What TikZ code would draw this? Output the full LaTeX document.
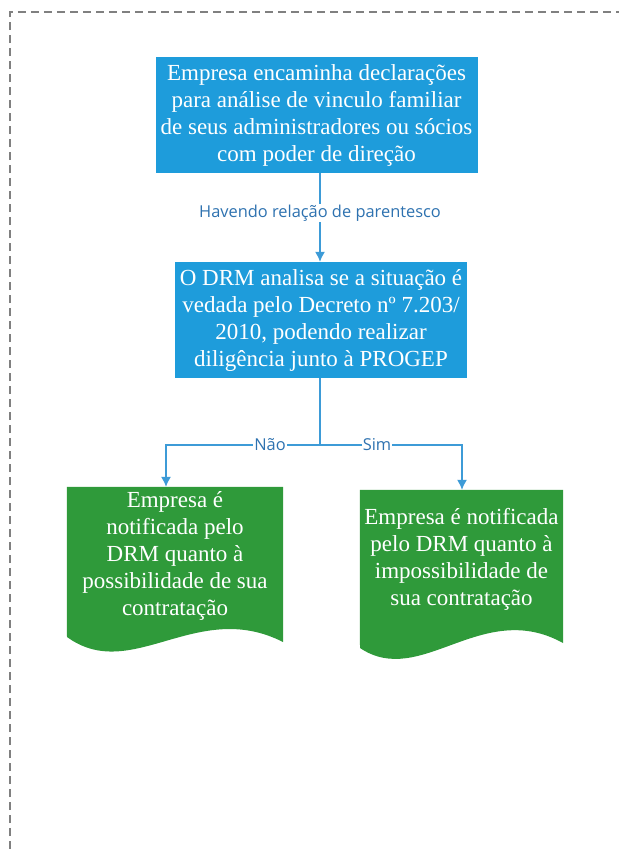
\documentclass[tikz,border=0pt]{standalone}
\usepackage{fontspec}
\newfontfamily\boxfont{Liberation Serif}
\newfontfamily\labelfont{Open Sans}
\usepackage{xcolor}
\usetikzlibrary{arrows.meta}
\usetikzlibrary{positioning}

\definecolor{boxblue}{HTML}{1E9CDB}
\definecolor{docgreen}{HTML}{2F9A3A}
\definecolor{linkblue}{HTML}{3D9BD7}
\definecolor{labelblue}{HTML}{2E72B0}

\tikzset{
  procbox/.style={fill=boxblue, text=white, align=center, font=\boxfont\fontsize{23}{27}\selectfont, inner sep=0pt},
  docbox/.style={text=white, align=center, font=\boxfont\fontsize{23}{27}\selectfont, inner sep=0pt},
  link/.style={draw=linkblue, line width=1.3pt},
  tip/.style={-{Latex[length=10pt,width=10pt]}},
  linklabel/.style={fill=white, text=labelblue, font=\labelfont\fontsize{16.4}{18}\selectfont, inner sep=1pt}
}

\begin{document}
\begin{tikzpicture}[x=1pt,y=-1pt]

\useasboundingbox (0,0) rectangle (619,849);

% frame
\draw[gray, line width=1.6pt, dash pattern=on 8pt off 5pt] (10,849) -- (10,12) -- (619,12);

\node[procbox, minimum width=322pt, minimum height=116pt] (envio) at (316.5,115)
  {Empresa encaminha declarações\\para análise de vinculo familiar\\de seus administradores ou sócios\\com poder de direção};
\node[procbox, minimum width=292pt, minimum height=116pt] (analise) at (321,320)
  {O DRM analisa se a situação é\\vedada pelo Decreto nº 7.203/\\2010, podendo realizar\\diligência junto à PROGEP};

\coordinate (split) at (320,445);

% document shapes
\node[docbox, minimum width=216pt, minimum height=138pt] (possivel) at (175,556) {};
\fill[docgreen] (possivel.north west) -- (possivel.north east) -- (283,642)
  .. controls (196.6,598) and (131.8,684) .. (67,637) -- cycle;
\node[docbox] at (possivel.center)
  {Empresa é\\notificada pelo\\DRM quanto à\\possibilidade de sua\\contratação};

\node[docbox, minimum width=203pt, minimum height=138pt] (impossivel) at (461.5,559) {};
\fill[docgreen] (impossivel.north west) -- (impossivel.north east) -- (563,643)
  .. controls (481.8,598) and (420.9,689) .. (360,648) -- cycle;
\node[docbox] at (impossivel.center)
  {Empresa é notificada\\pelo DRM quanto à\\impossibilidade de\\sua contratação};

% connectors
\draw[link, tip] (envio.south -| 320,0) -- (analise.north -| 320,0)
  node[linklabel, pos=0.45] {Havendo relação de parentesco};
\draw[link] (analise.south -| split) -- (split);
\draw[link, tip] (split) -- (166,445) -- (possivel.north -| 166,0);
\draw[link, tip] (split) -- (462,445) -- (impossivel.north -| 462,0);
\node[linklabel] (nao) at (270,445) {Não};
\node[linklabel] (sim) at (377,445) {Sim};

\end{tikzpicture}
\end{document}
